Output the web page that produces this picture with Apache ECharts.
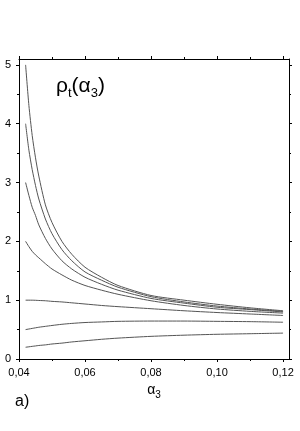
<!DOCTYPE html>
<html><head><meta charset="utf-8">
<script src="https://cdn.jsdelivr.net/npm/echarts@6/dist/echarts.min.js"></script>
<style>html,body{margin:0;padding:0;background:#fff}#c{width:300px;height:431px}</style>
</head><body><div id="c"></div>
<script>
// alpha_3 values (x)
const alpha3 = [0.042,0.043,0.044,0.045,0.046,0.048,0.050,0.053,0.056,0.060,0.065,0.070,0.080,0.090,0.100,0.110,0.120];
// rho_t curves
const rho1 = [5.00,4.31,3.80,3.42,3.11,2.62,2.32,2.00,1.78,1.56,1.39,1.25,1.08,1.00,0.93,0.87,0.82];
const rho2 = [4.00,3.55,3.22,2.95,2.72,2.38,2.13,1.86,1.67,1.48,1.34,1.22,1.06,0.97,0.90,0.85,0.81];
const rho3 = [3.00,2.78,2.58,2.44,2.28,2.05,1.87,1.67,1.53,1.39,1.27,1.17,1.03,0.95,0.88,0.84,0.80];
const rho4 = [2.00,1.91,1.83,1.77,1.72,1.62,1.53,1.43,1.34,1.25,1.17,1.10,0.99,0.91,0.85,0.81,0.78];
const rho5 = [1.00,1.00,1.00,0.998,0.995,0.99,0.98,0.97,0.955,0.935,0.91,0.89,0.855,0.82,0.79,0.765,0.74];
const rho6 = [0.50,0.51,0.52,0.53,0.54,0.555,0.57,0.59,0.605,0.62,0.63,0.64,0.645,0.645,0.64,0.635,0.625];
const rho7 = [0.20,0.207,0.215,0.222,0.23,0.24,0.255,0.27,0.29,0.31,0.335,0.355,0.385,0.405,0.42,0.43,0.44];
const curves = [rho1,rho2,rho3,rho4,rho5,rho6,rho7];
// ticks
const xMajorTicks = [0.04,0.06,0.08,0.10,0.12];
const xMinorTicks = [0.05,0.07,0.09,0.11];
const yMajorTicks = [0,1,2,3,4,5];
const yMinorTicks = [0.5,1.5,2.5,3.5,4.5];
const xMin = 0.04, xMax = 0.1218, yMin = 0, yMax = 5.1;

const FONT = 'Liberation Sans, Arial, sans-serif';
function xAx(pos, ticks, len, showLine, label, extra) {
  return Object.assign({
    type:'value', position:pos, min:xMin, max:xMax,
    axisLine:{show:showLine, onZero:false, lineStyle:{color:'#000', width:1}},
    axisTick:{show:true, customValues:ticks, length:len, lineStyle:{color:'#000', width:1}},
    axisLabel: label ? {show:true, customValues:ticks, margin:8, fontSize:11, color:'#000', fontFamily:FONT,
      formatter:v => v.toFixed(2).replace('.', ',')} : {show:false},
    splitLine:{show:false}
  }, extra || {});
}
function yAx(pos, ticks, len, showLine, label) {
  return {
    type:'value', position:pos, min:yMin, max:yMax,
    axisLine:{show:showLine, onZero:false, lineStyle:{color:'#000', width:1}},
    axisTick:{show:true, customValues:ticks, length:len, lineStyle:{color:'#000', width:1}},
    axisLabel: label ? {show:true, customValues:ticks, margin:8, fontSize:11, color:'#000', fontFamily:FONT,
      formatter:v => String(v)} : {show:false},
    splitLine:{show:false}
  };
}
const chart = echarts.init(document.getElementById('c'), null, {renderer:'canvas'});
chart.setOption({
  animation:false,
  backgroundColor:'#fff',
  grid:{left:19, right:11, top:59, bottom:72, containLabel:false},
  xAxis:[
    xAx('bottom', xMajorTicks, 3, true, true, {
      name:'{a|α}{s|3}', nameLocation:'middle', nameGap:22,
      nameTextStyle:{rich:{a:{fontSize:14, fontFamily:FONT, color:'#000'}, s:{fontSize:10, fontFamily:FONT, color:'#000', padding:[9,0,0,0]}}}
    }),
    xAx('bottom', xMinorTicks, 2, false, false),
    xAx('top', xMajorTicks, 3, true, false),
    xAx('top', xMinorTicks, 2, false, false)
  ],
  yAxis:[
    yAx('left', yMajorTicks, 3, true, true),
    yAx('left', yMinorTicks, 2, false, false),
    yAx('right', yMajorTicks, 3, true, false),
    yAx('right', yMinorTicks, 2, false, false)
  ],
  graphic:[
    {type:'text', left:56, top:76, style:{
      text:'{m|ρ}{s|t}{m|(α}{s|3}{m|)}', fill:'#000',
      rich:{m:{fontSize:21, fontFamily:FONT, color:'#000'}, s:{fontSize:13, fontFamily:FONT, color:'#000', padding:[14,0,0,0]}}
    }},
    {type:'text', left:15, top:394, style:{text:'a)', fontSize:16, fontFamily:FONT, fill:'#000'}}
  ],
  series: curves.map((c, i) => ({
    type:'line', xAxisIndex:0, yAxisIndex:0, showSymbol:false, symbol:'none',
    smooth:0.25, silent:true,
    lineStyle:{color:'#555', width:1},
    data: alpha3.map((x, j) => [x, c[j]])
  }))
});
</script></body></html>
